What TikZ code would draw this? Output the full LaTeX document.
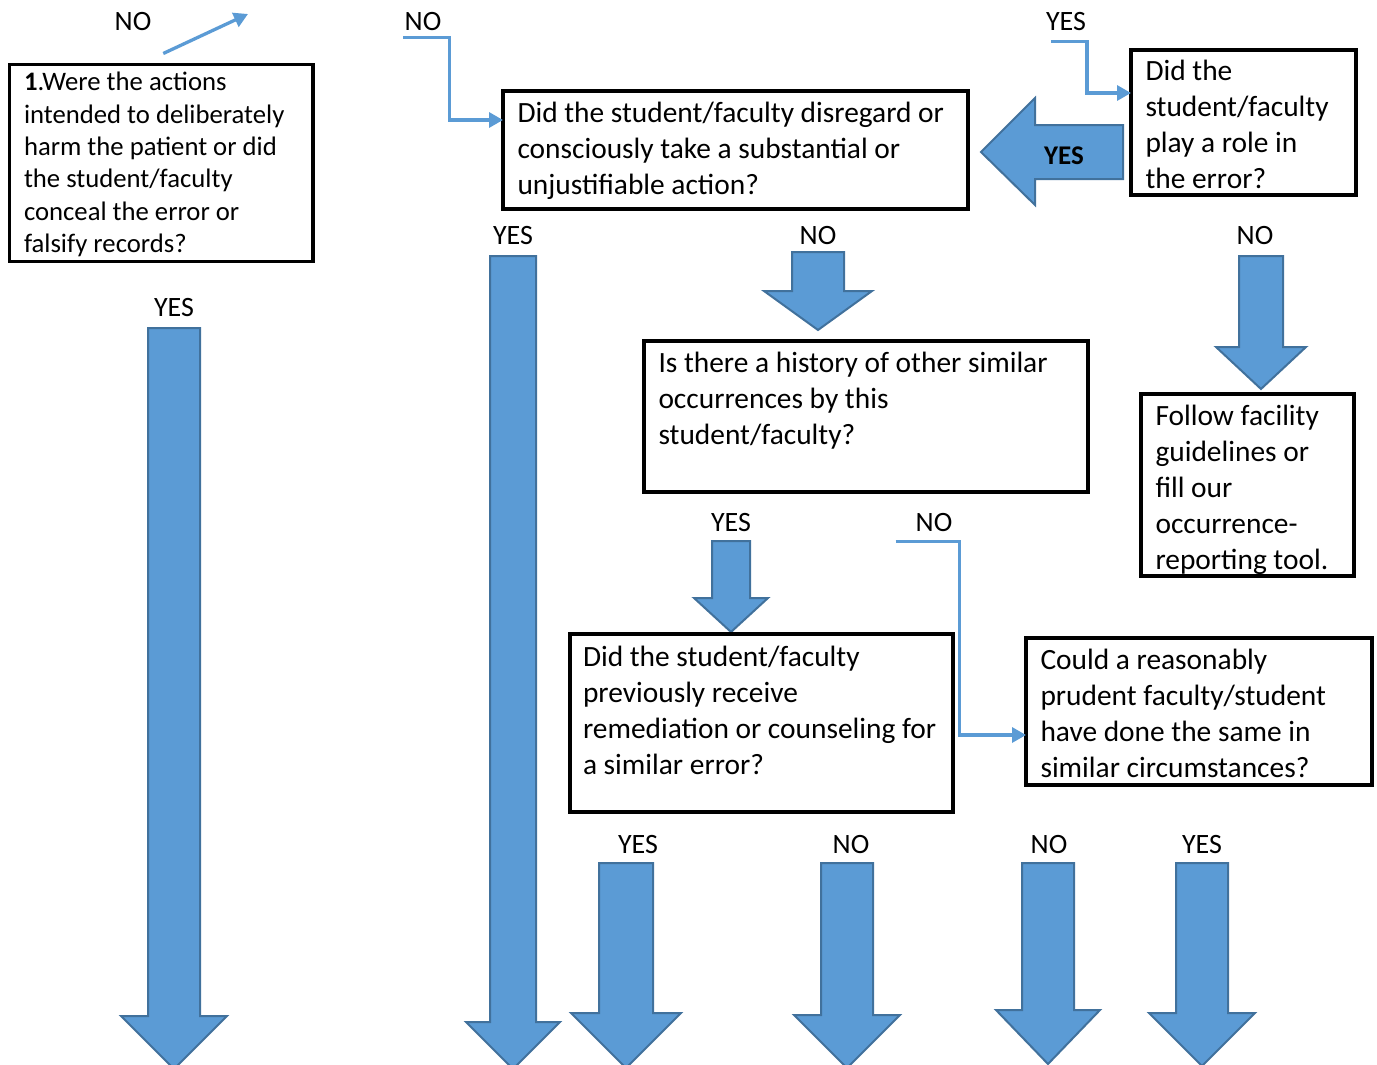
\documentclass[tikz,border=0pt]{standalone}
\usepackage{fontspec}
\setmainfont{Carlito}
\usepackage{tikz}
\usetikzlibrary{positioning, arrows.meta}

\definecolor{arrowblue}{HTML}{5B9BD5}
\definecolor{arrowedge}{HTML}{41719C}

\tikzset{
  qbox/.style={draw, line width=3.5pt, anchor=north west, outer sep=0pt, inner xsep=14.5pt, inner ysep=0pt,
    align=flush left, font=\fontsize{29.4}{36}\selectfont},
  lbl/.style={inner sep=1pt, font=\fontsize{28}{34}\selectfont},
  flow/.style={draw=arrowblue, line width=3.3pt, -{Triangle[length=14pt,width=15pt]}},
  blockarrow/.style={fill=arrowblue, draw=arrowedge, line width=2pt, line join=miter},
}

% centre x, top y, head y, tip y, half shaft, half head
\newcommand{\blockdown}[6]{%
  \filldraw[blockarrow] (#1-#5,#2) -- (#1+#5,#2) -- (#1+#5,#3) -- (#1+#6,#3)
    -- (#1,#4) -- (#1-#6,#3) -- (#1-#5,#3) -- cycle;}

\begin{document}
\begin{tikzpicture}[x=1pt, y=-1pt]
  \useasboundingbox (0,0) rectangle (1377,1065);
  \clip (0,0) rectangle (1377,1065);

  % block arrows
  \blockdown{174}{328}{1016}{1069}{26}{53}
  \blockdown{513}{256}{1022}{1069}{23}{47}
  \blockdown{626}{863}{1013}{1068}{27}{55}
  \blockdown{847}{863}{1015}{1068}{26}{53}
  \blockdown{1048}{863}{1010}{1064}{26}{52}
  \blockdown{1202}{863}{1013}{1066}{26}{53}
  \blockdown{818}{252}{291}{330}{26}{54}
  \blockdown{1261}{256}{347}{389}{22}{45}
  \blockdown{731}{541}{598}{632}{19}{37}
  \filldraw[blockarrow] (981,152) -- (1035,98) -- (1035,125) -- (1123,125)
    -- (1123,179) -- (1035,179) -- (1035,205) -- cycle;
  \node[font=\fontsize{27}{32}\selectfont\bfseries] (yesleft) at (1064,156) {YES};

  % question boxes
  \node[qbox, font=\fontsize{26.7}{32.5}\selectfont, text width=274.5pt, text height=26pt, text depth=171pt] (q1) at (9.5,64.5)
    {\textbf{1}.Were the actions\\intended to deliberately\\harm the patient or did\\the student/faculty\\conceal the error or\\falsify records?};
  \node[qbox, text width=436pt, text height=31pt, text depth=87pt] (q2) at (503,91)
    {Did the student/faculty disregard or\\consciously take a substantial or\\unjustifiable action?};
  \node[qbox, text width=196pt, text height=31pt, text depth=114pt] (q3) at (1131,50)
    {Did the\\student/faculty\\play a role in\\the error?};
  \node[qbox, text width=415pt, text height=31pt, text depth=120pt] (q4) at (644,341)
    {Is there a history of other similar\\occurrences by this\\student/faculty?};
  \node[qbox, text width=184pt, text height=31pt, text depth=151pt] (q5) at (1141,394)
    {Follow facility\\guidelines or\\fill our\\occurrence-\\reporting tool.};
  \node[qbox, inner xsep=13pt, text width=357pt, text height=32pt, text depth=146pt] (q6) at (570,634)
    {Did the student/faculty\\previously receive\\remediation or counseling for\\a similar error?};
  \node[qbox, text width=317pt, text height=31pt, text depth=116pt] (q7) at (1026,638)
    {Could a reasonably\\prudent faculty/student\\have done the same in\\similar circumstances?};

  % answer labels
  \node[lbl] (no1) at (133,22) {NO};
  \node[lbl] (no2) at (423,22) {NO};
  \node[lbl] (yes3) at (1066,22) {YES};
  \node[lbl] (yes1) at (174,308) {YES};
  \node[lbl] (yes2) at (513,236) {YES};
  \node[lbl] (no4) at (818,236) {NO};
  \node[lbl] (no3) at (1255,236) {NO};
  \node[lbl] (yes4) at (731,523) {YES};
  \node[lbl] (no6) at (934,523) {NO};
  \node[lbl] (yes6a) at (638,845) {YES};
  \node[lbl] (no6a) at (851,845) {NO};
  \node[lbl] (no7a) at (1049,845) {NO};
  \node[lbl] (yes7a) at (1202,845) {YES};

  % thin connectors
  \coordinate (out1) at (248,14);
  \draw[flow] ([xshift=2pt, yshift=11pt]q1.north) -- (out1);
  \draw[flow] ([yshift=-5pt]no2.south west) -- ++(46,0) |- ([yshift=-29pt]q2.north west);
  \draw[flow] ([xshift=6pt, yshift=-9pt]yes3.south west) -- ++(36,0) |- ([yshift=-43pt]q3.north west);
  \draw[flow] ([yshift=-8pt]no6.south west) ++(-19,0) -- ++(64,0) |- ([yshift=-97pt]q7.north west);
\end{tikzpicture}
\end{document}
